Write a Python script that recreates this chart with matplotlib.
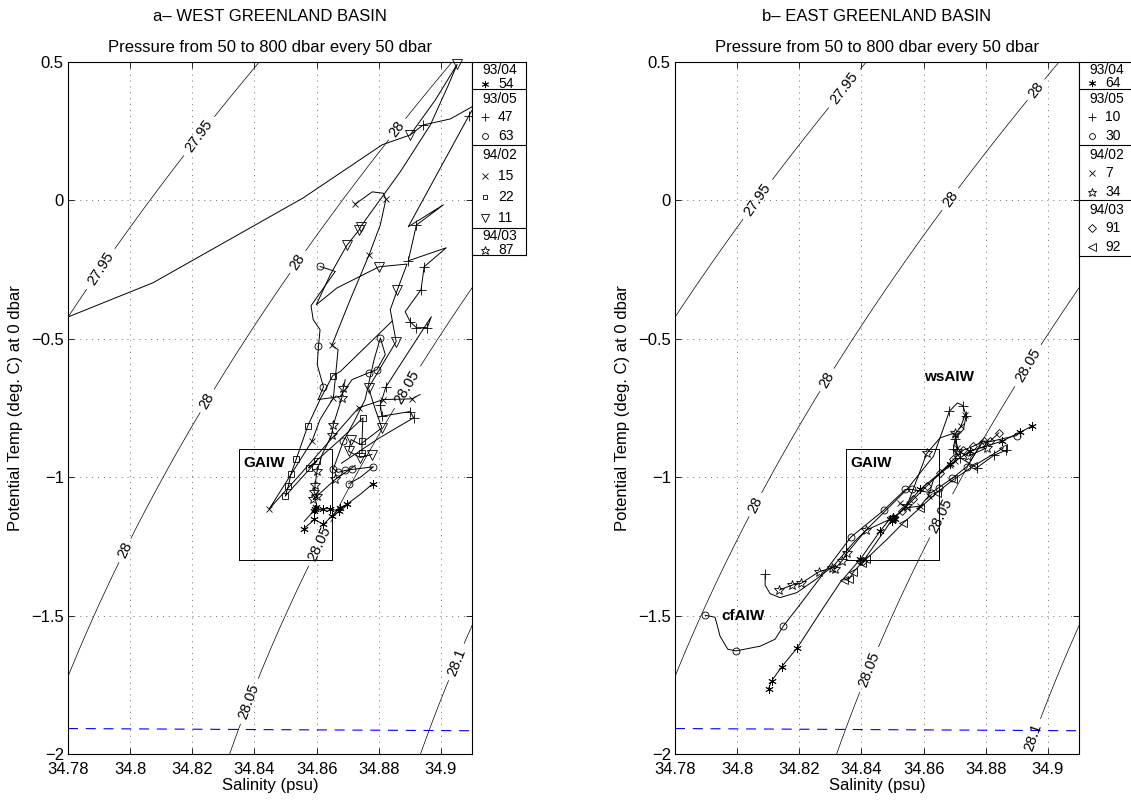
import numpy as np
import matplotlib.pyplot as plt

plt.rcParams['font.family'] = ['Liberation Sans', 'DejaVu Sans']
plt.rcParams['font.size'] = 12

# axes ranges and ticks
s_lim = (34.78, 34.91)
t_lim = (-2.0, 0.5)
s_ticks = [34.78, 34.80, 34.82, 34.84, 34.86, 34.88, 34.90]
s_tick_labels = ['34.78', '34.8', '34.82', '34.84', '34.86', '34.88', '34.9']
t_ticks = [-2.0, -1.5, -1.0, -0.5, 0.0, 0.5]
t_tick_labels = ['\u22122', '\u22121.5', '\u22121', '\u22120.5', '0', '0.5']

sigma_levels = [27.95, 28.0, 28.05, 28.1]
freeze_S = [34.78, 34.91]
freeze_T = [-1.908, -1.916]
gaiw_S = [34.835, 34.865]
gaiw_T = [-1.3, -0.9]

# contour label positions (S, T)
west_clabel_pos = [(34.8225, 0.229), (34.7909, -0.251),
                   (34.8863, 0.253), (34.8544, -0.226), (34.8251, -0.727), (34.799, -1.268),
                   (34.8895, -0.677), (34.8612, -1.243), (34.8383, -1.809),
                   (34.9053, -1.669)]
east_clabel_pos = [(34.835, 0.40), (34.807, 0.0),
                   (34.896, 0.40), (34.869, 0.0), (34.829, -0.65), (34.8058, -1.099),
                   (34.894, -0.60), (34.8659, -1.141), (34.8422, -1.694),
                   (34.8954, -1.94)]

# ---- West Greenland Basin profiles: (marker, S, T, marker indices)
west_plus47_S = [34.776, 34.8074, 34.8557, 34.8811, 34.8901, 34.8943, 34.903, 34.910, 34.912, 34.909,
                 34.8895, 34.9008, 34.8921, 34.8895, 34.9017, 34.8946, 34.8936, 34.8885, 34.8901, 34.8921,
                 34.8956, 34.8969, 34.8823, 34.8805, 34.881, 34.8901, 34.8912, 34.880, 34.868]
west_plus47_T = [-0.44, -0.298, 0.0083, 0.2, 0.2355, 0.2716, 0.2932, 0.337, 0.362, 0.305,
                 -0.096, -0.0169, -0.0900, -0.219, -0.172, -0.2405, -0.3234, -0.4027, -0.4388, -0.4605,
                 -0.4605, -0.4208, -0.6743, -0.738, -0.78, -0.7633, -0.786, -0.86, -0.95]
west_plus47_mk = [5, 9, 12, 13, 15, 16, 18, 19, 20, 22, 23, 24, 25, 26]

west_tri11_S = [34.8901, 34.8982, 34.9052, 34.9024, 34.8966, 34.8869, 34.8742, 34.8737, 34.8697, 34.8644,
                34.8599, 34.8665, 34.8801, 34.8891, 34.886, 34.8837, 34.8856, 34.8821, 34.8767, 34.8789,
                34.881, 34.874, 34.8711, 34.8703, 34.874, 34.8778]
west_tri11_T = [0.2355, 0.3617, 0.49, 0.4158, 0.2716, 0.1021, -0.0952, -0.107, -0.1637, -0.2693,
                -0.3775, -0.3173, -0.2405, -0.2308, -0.3234, -0.3955, -0.511, -0.576, -0.678, -0.756,
                -0.8222, -0.8824, -0.8644, -0.9065, -0.9293, -0.9185]
west_tri11_mk = [0, 2, 6, 7, 8, 12, 14, 16, 18, 20, 22, 23, 24, 25]

west_x15_S = [34.8724, 34.8779, 34.8815, 34.8823, 34.8805, 34.8769, 34.8708, 34.8649, 34.8669, 34.8654,
              34.8611, 34.8585, 34.8448, 34.8547, 34.8735, 34.8815, 34.8907, 34.8933]
west_x15_T = [-0.0144, 0.03, 0.025, 0.0036, -0.089, -0.1972, -0.3595, -0.5243, -0.5398, -0.714,
              -0.7922, -0.8705, -1.1142, -0.9905, -0.75, -0.72, -0.7175, -0.702]
west_x15_mk = [0, 3, 5, 7, 9, 11, 12, 14, 15, 16]

west_sq22_S = [34.8842, 34.8676, 34.8652, 34.8611, 34.8572, 34.8534, 34.8517, 34.8509, 34.8499, 34.8547,
               34.8601, 34.8574, 34.8676, 34.8749, 34.8746, 34.8746]
west_sq22_T = [-0.4377, -0.619, -0.6335, -0.72, -0.8138, -0.9364, -0.9905, -1.0327, -1.0688, -1.0086,
               -0.9426, -0.9664, -0.8644, -0.7861, -0.8705, -0.9123]
west_sq22_mk = [2, 4, 5, 6, 7, 8, 10, 11, 13, 14, 15]

west_star87_S = [34.8692, 34.8686, 34.8681, 34.8654, 34.8649, 34.8618, 34.8601, 34.8595, 34.8592, 34.8602,
                 34.8589, 34.866, 34.8724]
west_star87_T = [-0.648, -0.6779, -0.714, -0.8103, -0.8463, -0.9184, -0.9787, -1.0302, -1.0555, -1.0699,
                 -1.0807, -1.0086, -0.9581]
west_star87_mk = [1, 2, 3, 4, 6, 7, 8, 9, 10, 11]

west_ast54_S = [34.8558, 34.8579, 34.8593, 34.8622, 34.8649, 34.8674, 34.8697, 34.874, 34.8781]
west_ast54_T = [-1.1863, -1.1672, -1.1528, -1.1708, -1.1408, -1.1105, -1.0986, -1.0627, -1.024]
west_ast54_mk = [0, 2, 3, 4, 5, 6, 8]

west_ast54b_S = [34.8560, 34.8595, 34.8598, 34.8592, 34.8622, 34.8644, 34.8673, 34.8700]
west_ast54b_T = [-1.16, -1.1168, -1.1096, -1.124, -1.1142, -1.1142, -1.124, -1.10]
west_ast54b_mk = [1, 2, 3, 4, 5, 6]

west_circ63_S = [34.8611, 34.866, 34.8582, 34.8589, 34.8611, 34.8606, 34.8602, 34.8622, 34.8605, 34.8676,
                 34.8714, 34.8767, 34.8794, 34.8821, 34.8805, 34.8785, 34.8756, 34.8724, 34.8686, 34.8654,
                 34.8669, 34.8692, 34.8714, 34.8783, 34.874, 34.8703]
west_circ63_T = [-0.2394, -0.2574, -0.3811, -0.4316, -0.4677, -0.528, -0.594, -0.6743, -0.72, -0.7093,
                 -0.648, -0.6238, -0.6119, -0.5578, -0.4976, -0.5759, -0.72, -0.7922, -0.8705, -0.97,
                 -0.9833, -0.9761, -0.9725, -0.9628, -1.0014, -1.0241]
west_circ63_mk = [0, 5, 7, 11, 12, 14, 18, 19, 20, 21, 22, 23, 25]

# ---- East Greenland Basin profiles
east_circ30_S = [34.7897, 34.7929, 34.7945, 34.797, 34.7996, 34.8074, 34.8122, 34.8149, 34.8203, 34.8366,
                 34.8471, 34.8541, 34.8562, 34.8624, 34.8648, 34.8691, 34.8739, 34.8787, 34.89]
east_circ30_T = [-1.499, -1.5062, -1.5747, -1.6216, -1.6277, -1.6107, -1.5855, -1.5375, -1.4593, -1.2166,
                 -1.1204, -1.0447, -1.0447, -1.0567, -1.0387, -1.005, -0.9629, -0.8788, -0.8499]
east_circ30_mk = [0, 4, 7, 9, 10, 11, 12, 13, 14, 15, 16, 17, 18]

east_ast64_S = [34.8101, 34.8111, 34.8144, 34.8194, 34.8267, 34.8331, 34.8396, 34.846, 34.8492, 34.8503,
                34.8508, 34.8498, 34.8589, 34.8685, 34.875, 34.8852, 34.8911, 34.8948]
east_ast64_T = [-1.7635, -1.7358, -1.6841, -1.6156, -1.4894, -1.3812, -1.2971, -1.1949, -1.1504, -1.1432,
                -1.1528, -1.1589, -1.0447, -0.9545, -0.9064, -0.8704, -0.8379, -0.8163]
east_ast64_mk = [0, 1, 2, 3, 6, 7, 8, 9, 10, 11, 12, 13, 14, 15, 16, 17]

east_left92_S = [34.8344, 34.8361, 34.8374, 34.8401, 34.8414, 34.8482, 34.8535, 34.8589, 34.8642, 34.8696,
                 34.876, 34.8857]
east_left92_T = [-1.3716, -1.3668, -1.3428, -1.3091, -1.2971, -1.225, -1.1649, -1.1108, -1.0567, -1.0086,
                 -0.9605, -0.8944]
east_left92_mk = [0, 1, 2, 3, 4, 6, 7, 8, 9, 10, 11]

east_dia91_S = [34.8842, 34.8814, 34.8793, 34.876, 34.8728, 34.8696, 34.8653, 34.861, 34.8567, 34.853,
                34.8503, 34.8406, 34.8396]
east_dia91_T = [-0.8403, -0.8704, -0.8704, -0.8884, -0.9028, -0.9365, -0.9846, -1.0326, -1.0807, -1.1228,
                -1.1469, -1.3031, -1.3031]
east_dia91_mk = list(range(13))

east_x7_S = [34.8734, 34.872, 34.8701, 34.8709, 34.8701, 34.8685, 34.8632, 34.8616, 34.8589, 34.8546, 34.8524]
east_x7_T = [-0.7742, -0.8163, -0.8464, -0.8944, -0.9425, -0.9581, -1.0086, -1.0687, -1.1048, -1.1108, -1.0951]
east_x7_mk = [0, 1, 2, 3, 4, 5, 7, 8, 9, 10]

east_plus10_S = [34.809, 34.809, 34.8106, 34.8138, 34.8192, 34.8256, 34.831, 34.8374, 34.846, 34.8546,
                 34.8632, 34.8683, 34.8709, 34.8726, 34.8737, 34.8728, 34.8701, 34.8696, 34.8718, 34.8771,
                 34.8825, 34.8866]
east_plus10_T = [-1.3512, -1.3908, -1.4209, -1.4353, -1.4173, -1.3668, -1.3211, -1.237, -1.1408, -1.0447,
                 -0.9244, -0.7622, -0.7321, -0.7418, -0.7778, -0.8283, -0.862, -0.9004, -0.9305, -0.9665,
                 -0.922, -0.9028]
east_plus10_mk = [0, 11, 13, 14, 16, 17, 18, 19, 20, 21]

east_star34_S = [34.8136, 34.8178, 34.8206, 34.8262, 34.8304, 34.8315, 34.8337, 34.8353, 34.8414, 34.8503,
                 34.8546, 34.861, 34.8653, 34.8701, 34.8709, 34.8744, 34.8803]
east_star34_T = [-1.4077, -1.3896, -1.3836, -1.3428, -1.3271, -1.3307, -1.3031, -1.2754, -1.1925, -1.1469,
                 -1.1048, -0.9148, -0.8584, -0.8403, -0.9064, -0.9245, -0.8944]
east_star34_mk = [0, 1, 2, 3, 4, 5, 6, 7, 8, 9, 10, 11, 13, 14, 15, 16]

# legend contents
west_key = [('93/04', [('ast', '54')]),
            ('93/05', [('plus', '47'), ('circ', '63')]),
            ('94/02', [('x', '15'), ('sq', '22'), ('tri', '11')]),
            ('94/03', [('star', '87')])]
east_key = [('93/04', [('ast', '64')]),
            ('93/05', [('plus', '10'), ('circ', '30')]),
            ('94/02', [('x', '7'), ('star', '34')]),
            ('94/03', [('dia', '91'), ('left', '92')])]

MARKERS = {
    'ast': dict(marker=(6, 2, 0), ms=6),
    'plus': dict(marker='+', ms=7),
    'circ': dict(marker='o', ms=5),
    'x': dict(marker='x', ms=5),
    'sq': dict(marker='s', ms=4),
    'tri': dict(marker='v', ms=6.5),
    'star': dict(marker='*', ms=7.5),
    'dia': dict(marker='D', ms=4.5),
    'left': dict(marker='<', ms=6),
}

west_casts = [('plus', west_plus47_S, west_plus47_T, west_plus47_mk),
              ('tri', west_tri11_S, west_tri11_T, west_tri11_mk),
              ('x', west_x15_S, west_x15_T, west_x15_mk),
              ('sq', west_sq22_S, west_sq22_T, west_sq22_mk),
              ('star', west_star87_S, west_star87_T, west_star87_mk),
              ('ast', west_ast54_S, west_ast54_T, west_ast54_mk),
              ('ast', west_ast54b_S, west_ast54b_T, west_ast54b_mk),
              ('circ', west_circ63_S, west_circ63_T, west_circ63_mk)]
east_casts = [('circ', east_circ30_S, east_circ30_T, east_circ30_mk),
              ('ast', east_ast64_S, east_ast64_T, east_ast64_mk),
              ('left', east_left92_S, east_left92_T, east_left92_mk),
              ('dia', east_dia91_S, east_dia91_T, east_dia91_mk),
              ('x', east_x7_S, east_x7_T, east_x7_mk),
              ('plus', east_plus10_S, east_plus10_T, east_plus10_mk),
              ('star', east_star34_S, east_star34_T, east_star34_mk)]


def sigma_theta(S, T):
    # UNESCO 1983 density at surface pressure, minus 1000
    rho_w = (999.842594 + 6.793952e-2 * T - 9.095290e-3 * T**2 + 1.001685e-4 * T**3
             - 1.120083e-6 * T**4 + 6.536332e-9 * T**5)
    a = 8.24493e-1 - 4.0899e-3 * T + 7.6438e-5 * T**2 - 8.2467e-7 * T**3 + 5.3875e-9 * T**4
    b = -5.72466e-3 + 1.0227e-4 * T - 1.6546e-6 * T**2
    c = 4.8314e-4
    return rho_w + a * S + b * S**1.5 + c * S**2 - 1000.0


def draw_panel(ax, casts, clabel_pos, labels):
    sg, tg = np.meshgrid(np.linspace(34.77, 34.92, 300), np.linspace(-2.1, 0.6, 300))
    cs = ax.contour(sg, tg, sigma_theta(sg, tg), levels=sigma_levels, colors='k', linewidths=0.5)
    ax.clabel(cs, fmt=lambda v: f'{v:g}', fontsize=10.5, manual=clabel_pos, inline=True, inline_spacing=4)

    ax.plot(freeze_S, freeze_T, color='#0000ff', lw=0.8, ls=(0, (9, 7)))

    for key, s, t, mk in casts:
        ax.plot(s, t, color='k', lw=0.7)
        ax.plot([s[i] for i in mk], [t[i] for i in mk], ls='none', mfc='none', mec='k',
                mew=0.6, clip_on=False, **MARKERS[key])

    ax.plot([gaiw_S[0], gaiw_S[1], gaiw_S[1], gaiw_S[0], gaiw_S[0]],
            [gaiw_T[0], gaiw_T[0], gaiw_T[1], gaiw_T[1], gaiw_T[0]], color='k', lw=0.7)
    for txt, s, t in labels:
        ax.text(s, t, txt, fontsize=11, fontweight='bold', ha='left', va='center')

    ax.set_xlim(s_lim)
    ax.set_ylim(t_lim)
    ax.set_xticks(s_ticks)
    ax.set_xticklabels(s_tick_labels)
    ax.set_yticks(t_ticks)
    ax.set_yticklabels(t_tick_labels)
    ax.tick_params(direction='in', top=True, right=True, length=4, width=0.6, pad=3)
    ax.tick_params(axis='x', pad=5.5)
    ax.grid(True, color='0.25', lw=0.5, ls=(0, (1.5, 7)))
    for sp in ax.spines.values():
        sp.set_linewidth(0.8)
    ax.set_xlabel('Salinity (psu)', labelpad=1)
    ax.set_ylabel('Potential Temp (deg. C) at 0 dbar', labelpad=6)


KEY_LAYOUT = {1: (8.0, [21.5], 27.0),
              2: (10.0, [28.2, 47.0], 55.6),
              3: (10.7, [31.7, 52.7, 73.7], 83.4)}


def draw_key(fig, rect, groups):
    kax = fig.add_axes(rect)
    total = sum(KEY_LAYOUT[len(g[1])][2] for g in groups)
    kax.set_xlim(0, 54)
    kax.set_ylim(total, 0)
    kax.set_xticks([])
    kax.set_yticks([])
    for sp in kax.spines.values():
        sp.set_linewidth(0.8)
    y0 = 0.0
    for head, entries in groups:
        hy, ey, h = KEY_LAYOUT[len(entries)]
        kax.text(10, y0 + hy, head, fontsize=10, ha='left', va='center')
        for (key, num), yy in zip(entries, ey):
            style = dict(MARKERS[key])
            style['ms'] = style['ms'] * 0.85
            kax.plot([13], [y0 + yy], ls='none', mfc='none', mec='k', mew=0.6, **style)
            kax.text(26, y0 + yy, num, fontsize=10, ha='left', va='center')
        y0 += h
        if y0 < total - 0.5:
            kax.axhline(y0, color='k', lw=0.8)
    return kax


fig = plt.figure(figsize=(11.31, 8.02), dpi=100)
W, H = 1131.0, 802.0
ax_l = fig.add_axes([68 / W, 48 / H, 404 / W, 692.3 / H])
ax_r = fig.add_axes([675 / W, 48 / H, 404 / W, 692.3 / H])

draw_panel(ax_l, west_casts, west_clabel_pos, [('GAIW', 34.8363, -0.948)])
draw_panel(ax_r, east_casts, east_clabel_pos,
           [('GAIW', 34.8363, -0.948), ('wsAIW', 34.86, -0.64), ('cfAIW', 34.795, -1.50)])

for ax, title in [(ax_l, 'a\u2013 WEST GREENLAND BASIN'), (ax_r, 'b\u2013 EAST GREENLAND BASIN')]:
    ax.text(0.5, 1.0646, title, transform=ax.transAxes, ha='center', va='center', fontsize=12)
    ax.text(0.5, 1.0212, 'Pressure from 50 to 800 dbar every 50 dbar', transform=ax.transAxes,
            ha='center', va='center', fontsize=12)

draw_key(fig, [472 / W, (802 - 255) / H, 54 / W, 193 / H], west_key)
draw_key(fig, [1079 / W, (802 - 255.7) / H, 54 / W, 193.7 / H], east_key)

fig.savefig('out.png', dpi=100)
